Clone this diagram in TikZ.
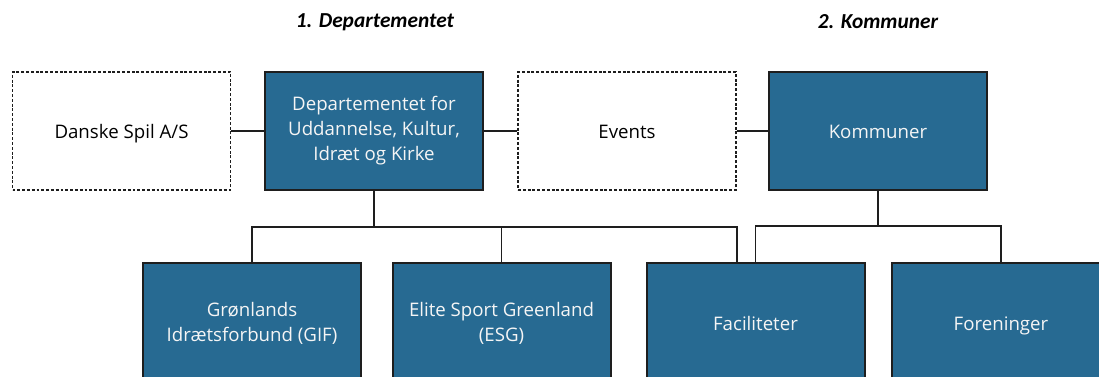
\documentclass[tikz,border=0pt]{standalone}
\usepackage{fontspec}
\setmainfont{Carlito}
\newfontfamily\boxfont{Open Sans}
\definecolor{boxblue}{RGB}{39,106,146}
\definecolor{edge}{RGB}{30,30,30}
\begin{document}
\begin{tikzpicture}[x=0.75pt,y=-0.75pt,
  every node/.style={font=\boxfont\fontsize{14}{18.8}\selectfont, align=center, inner sep=0pt},
  unitbox/.style={rectangle, draw=edge, line width=1.5pt, fill=boxblue,
    text=white!96!black, minimum width=163.5pt, minimum height=88.5pt},
  lowbox/.style={unitbox, minimum height=90pt},
  extbox/.style={rectangle, draw=edge, line width=0.8pt, dash pattern=on 2.2pt off 1.4pt,
    fill=white, text=black, minimum width=163.5pt, minimum height=88.5pt},
  % single-line labels share one baseline whatever their descenders
  oneline/.style={text height=10.5pt, text depth=0pt},
  heading/.style={font=\rmfamily\fontsize{16}{19}\selectfont\bfseries\itshape},
  link/.style={draw=edge, line width=1.2pt}]
\useasboundingbox (0,0) rectangle (1099,376);
\clip (0,0) rectangle (1099,376);

% column headings
\node[heading] (h1) at (375,22) {1. Departementet};
\node[heading] (h2) at (878,22) {2. Kommuner};

% top row
\node[extbox, oneline]  (danske) at (121.5,131) {Danske Spil A/S};
\node[unitbox]          (dept)   at (374,131)   {Departementet for\\Uddannelse, Kultur,\\Idræt og Kirke};
\node[extbox, oneline]  (events) at (627,131)   {Events};
\node[unitbox, oneline] (komm)   at (878,131)   {Kommuner};

% bottom row
\node[lowbox]          (gif)   at (252,323)    {Grønlands\\Idrætsforbund (GIF)};
\node[lowbox]          (esg)   at (501.5,323)  {Elite Sport Greenland\\(ESG)};
\node[lowbox, oneline] (fac)   at (755.5,323)  {Faciliteter};
\node[lowbox, oneline] (foren) at (1001,323)   {Foreninger};

% horizontal links in the top row
\draw[link] (danske.east) -- (dept.west);
\draw[link] (dept.east) -- (events.west);
\draw[link] (events.east) -- (komm.west);

% department tree
\coordinate (dbus) at (374,227);
\coordinate (facL) at (737,263);
\draw[link] (dept.south) -- (dbus);
\draw[link] (gif.north) -- (gif.north |- dbus) -- (facL |- dbus) -- (facL);
\draw[link] (esg.north) -- (esg.north |- dbus);

% municipality tree
\coordinate (kbus) at (878,226);
\draw[link] (komm.south) -- (kbus);
\draw[link] (fac.north) -- (fac.north |- kbus) -- (foren.north |- kbus) -- (foren.north);
\end{tikzpicture}
\end{document}
